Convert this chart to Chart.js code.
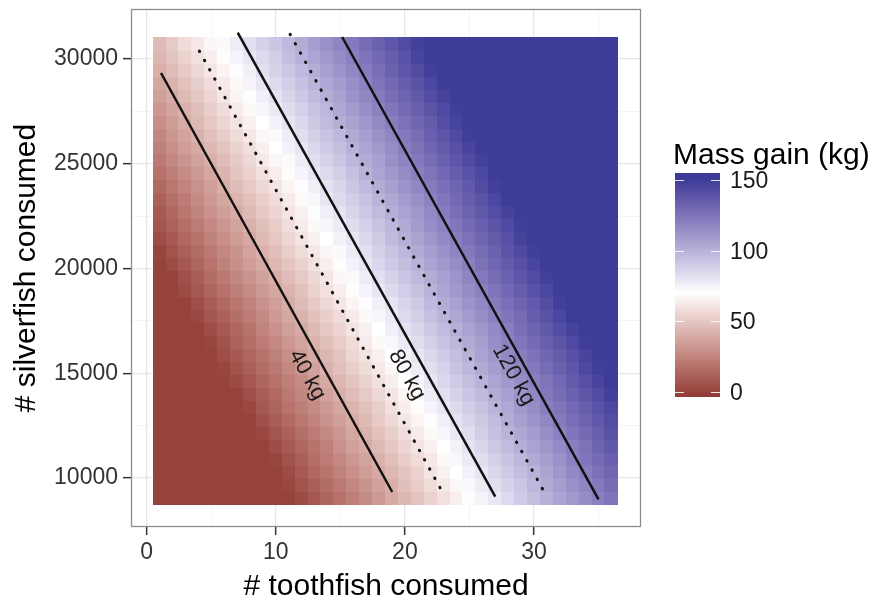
<!DOCTYPE html>
<html>
<head>
<meta charset="utf-8">
<title>Mass gain</title>
<script src="https://cdn.jsdelivr.net/npm/chart.js@4.4.1/dist/chart.umd.min.js"></script>
<style>
  html, body { margin: 0; padding: 0; background: #fff; }
</style>
</head>
<body>
<canvas id="myChart" width="883" height="606"></canvas>
<script>
// heatmap grid: columns = toothfish, rows = silverfish (bottom row first)
const toothfish = [1, 2, 3, 4, 5, 6, 7, 8, 9, 10, 11, 12, 13, 14, 15, 16, 17, 18,
  19, 20, 21, 22, 23, 24, 25, 26, 27, 28, 29, 30, 31, 32, 33, 34, 35, 36];
const silverfish = [9068, 9687, 10306, 10924, 11543, 12162, 12781, 13400, 14018,
  14637, 15256, 15875, 16494, 17112, 17731, 18350, 18969, 19588, 20206, 20825,
  21444, 22063, 22682, 23300, 23919, 24538, 25157, 25776, 26394, 27013, 27632,
  28251, 28870, 29488, 30107, 30726];

const massGain = [
  [0,0,0,0,0,0,0,0,0,0,0,3,8,13,18,23,28,33,39,44,49,54,59,64,69,74,79,84,90,95,100,105,110,115,120,125],
  [0,0,0,0,0,0,0,0,0,0,1,6,11,16,21,26,31,36,41,47,52,57,62,67,72,77,82,87,92,98,103,108,113,118,123,128],
  [0,0,0,0,0,0,0,0,0,0,3,9,14,19,24,29,34,39,44,49,54,60,65,70,75,80,85,90,95,100,105,111,116,121,126,131],
  [0,0,0,0,0,0,0,0,0,1,6,11,17,22,27,32,37,42,47,52,57,62,68,73,78,83,88,93,98,103,108,113,119,124,129,134],
  [0,0,0,0,0,0,0,0,0,4,9,14,19,24,30,35,40,45,50,55,60,65,70,75,81,86,91,96,101,106,111,116,121,126,132,137],
  [0,0,0,0,0,0,0,0,2,7,12,17,22,27,32,38,43,48,53,58,63,68,73,78,83,89,94,99,104,109,114,119,124,129,134,140],
  [0,0,0,0,0,0,0,0,5,10,15,20,25,30,35,40,45,51,56,61,66,71,76,81,86,91,96,102,107,112,117,122,127,132,137,142],
  [0,0,0,0,0,0,0,2,8,13,18,23,28,33,38,43,48,53,59,64,69,74,79,84,89,94,99,104,110,115,120,125,130,135,140,145],
  [0,0,0,0,0,0,0,5,10,15,21,26,31,36,41,46,51,56,61,66,72,77,82,87,92,97,102,107,112,117,123,128,133,138,143,148],
  [0,0,0,0,0,0,3,8,13,18,23,28,34,39,44,49,54,59,64,69,74,79,85,90,95,100,105,110,115,120,125,130,136,141,146,150],
  [0,0,0,0,0,1,6,11,16,21,26,31,36,42,47,52,57,62,67,72,77,82,87,93,98,103,108,113,118,123,128,133,138,144,149,150],
  [0,0,0,0,0,4,9,14,19,24,29,34,39,44,49,55,60,65,70,75,80,85,90,95,100,106,111,116,121,126,131,136,141,146,150,150],
  [0,0,0,0,1,6,12,17,22,27,32,37,42,47,52,57,63,68,73,78,83,88,93,98,103,108,114,119,124,129,134,139,144,149,150,150],
  [0,0,0,0,4,9,14,19,25,30,35,40,45,50,55,60,65,70,76,81,86,91,96,101,106,111,116,121,127,132,137,142,147,150,150,150],
  [0,0,0,2,7,12,17,22,27,33,38,43,48,53,58,63,68,73,78,84,89,94,99,104,109,114,119,124,129,135,140,145,150,150,150,150],
  [0,0,0,5,10,15,20,25,30,35,40,46,51,56,61,66,71,76,81,86,91,97,102,107,112,117,122,127,132,137,142,148,150,150,150,150],
  [0,0,3,8,13,18,23,28,33,38,43,48,54,59,64,69,74,79,84,89,94,99,105,110,115,120,125,130,135,140,145,150,150,150,150,150],
  [0,0,5,10,16,21,26,31,36,41,46,51,56,61,67,72,77,82,87,92,97,102,107,112,118,123,128,133,138,143,148,150,150,150,150,150],
  [0,3,8,13,18,24,29,34,39,44,49,54,59,64,69,75,80,85,90,95,100,105,110,115,120,126,131,136,141,146,150,150,150,150,150,150],
  [1,6,11,16,21,26,31,37,42,47,52,57,62,67,72,77,82,88,93,98,103,108,113,118,123,128,133,139,144,149,150,150,150,150,150,150],
  [4,9,14,19,24,29,34,39,45,50,55,60,65,70,75,80,85,90,96,101,106,111,116,121,126,131,136,141,147,150,150,150,150,150,150,150],
  [7,12,17,22,27,32,37,42,47,52,58,63,68,73,78,83,88,93,98,103,109,114,119,124,129,134,139,144,149,150,150,150,150,150,150,150],
  [9,14,20,25,30,35,40,45,50,55,60,65,71,76,81,86,91,96,101,106,111,116,122,127,132,137,142,147,150,150,150,150,150,150,150,150],
  [12,17,22,28,33,38,43,48,53,58,63,68,73,79,84,89,94,99,104,109,114,119,124,130,135,140,145,150,150,150,150,150,150,150,150,150],
  [15,20,25,30,35,41,46,51,56,61,66,71,76,81,86,92,97,102,107,112,117,122,127,132,137,143,148,150,150,150,150,150,150,150,150,150],
  [18,23,28,33,38,43,49,54,59,64,69,74,79,84,89,94,100,105,110,115,120,125,130,135,140,145,150,150,150,150,150,150,150,150,150,150],
  [21,26,31,36,41,46,51,56,62,67,72,77,82,87,92,97,102,107,113,118,123,128,133,138,143,148,150,150,150,150,150,150,150,150,150,150],
  [24,29,34,39,44,49,54,59,64,70,75,80,85,90,95,100,105,110,115,121,126,131,136,141,146,150,150,150,150,150,150,150,150,150,150,150],
  [26,32,37,42,47,52,57,62,67,72,77,83,88,93,98,103,108,113,118,123,128,134,139,144,149,150,150,150,150,150,150,150,150,150,150,150],
  [29,34,40,45,50,55,60,65,70,75,80,85,91,96,101,106,111,116,121,126,131,136,142,147,150,150,150,150,150,150,150,150,150,150,150,150],
  [32,37,42,47,53,58,63,68,73,78,83,88,93,98,104,109,114,119,124,129,134,139,144,149,150,150,150,150,150,150,150,150,150,150,150,150],
  [35,40,45,50,55,61,66,71,76,81,86,91,96,101,106,112,117,122,127,132,137,142,147,150,150,150,150,150,150,150,150,150,150,150,150,150],
  [38,43,48,53,58,63,68,74,79,84,89,94,99,104,109,114,119,125,130,135,140,145,150,150,150,150,150,150,150,150,150,150,150,150,150,150],
  [41,46,51,56,61,66,71,76,82,87,92,97,102,107,112,117,122,127,133,138,143,148,150,150,150,150,150,150,150,150,150,150,150,150,150,150],
  [44,49,54,59,64,69,74,79,84,89,95,100,105,110,115,120,125,130,135,140,146,150,150,150,150,150,150,150,150,150,150,150,150,150,150,150],
  [46,51,57,62,67,72,77,82,87,92,97,102,108,113,118,123,128,133,138,143,148,150,150,150,150,150,150,150,150,150,150,150,150,150,150,150]
];

// contour lines (end points), 40/80/120 solid, 60/100 dotted
const contourLevels = [40, 60, 80, 100, 120];
const contourX = [[1.11, 19.02], [4.08, 22.99], [7.05, 27.0], [11.11, 30.74], [15.14, 35.0]];
const contourY = [[29332, 9332], [30382, 9236], [31255, 9107], [31179, 9394], [31050, 8983]];

// contour labels
const labelText = ['40 kg', '80 kg', '120 kg'];
const labelLevel = [40, 80, 120];
const labelX = [12.43, 20.16, 28.42];
const labelY = [14916, 14916, 14916];

// ticks
const xTicks = [0, 10, 20, 30];
const xMinor = [5, 15, 25, 35];
const yTicks = [10000, 15000, 20000, 25000, 30000];
const yMinor = [12500, 17500, 22500, 27500];
const legendTicks = [0, 50, 100, 150];

const FONT = "'Liberation Sans', Arial, Helvetica, sans-serif";

// colour scale: muted red -> white -> muted blue, interpolated in Lab
const lowCol = '#832424', midCol = '#ffffff', highCol = '#3a3a98';
const midVal = 70, spread = 81;

function hexRgb(h) {
  return [parseInt(h.slice(1, 3), 16), parseInt(h.slice(3, 5), 16), parseInt(h.slice(5, 7), 16)];
}
function toLab(rgb) {
  const lin = rgb.map(c => { c /= 255; return c <= 0.04045 ? c / 12.92 : Math.pow((c + 0.055) / 1.055, 2.4); });
  const X = (lin[0] * 0.4124 + lin[1] * 0.3576 + lin[2] * 0.1805) / 0.95047;
  const Y = lin[0] * 0.2126 + lin[1] * 0.7152 + lin[2] * 0.0722;
  const Z = (lin[0] * 0.0193 + lin[1] * 0.1192 + lin[2] * 0.9505) / 1.08883;
  const f = t => t > 0.008856 ? Math.cbrt(t) : 7.787 * t + 16 / 116;
  return [116 * f(Y) - 16, 500 * (f(X) - f(Y)), 200 * (f(Y) - f(Z))];
}
function fromLab(L, a, b) {
  const fy = (L + 16) / 116, fx = fy + a / 500, fz = fy - b / 200;
  const inv = t => t * t * t > 0.008856 ? t * t * t : (t - 16 / 116) / 7.787;
  const X = inv(fx) * 0.95047, Y = inv(fy), Z = inv(fz) * 1.08883;
  const r = X * 3.2406 - Y * 1.5372 - Z * 0.4986;
  const g = -X * 0.9689 + Y * 1.8758 + Z * 0.0415;
  const bl = X * 0.0557 - Y * 0.2040 + Z * 1.0570;
  const gam = c => {
    c = c <= 0.0031308 ? 12.92 * c : 1.055 * Math.pow(c, 1 / 2.4) - 0.055;
    return Math.round(Math.min(1, Math.max(0, c)) * 255);
  };
  return 'rgb(' + gam(r) + ',' + gam(g) + ',' + gam(bl) + ')';
}
const labLow = toLab(hexRgb(lowCol)), labMid = toLab(hexRgb(midCol)), labHigh = toLab(hexRgb(highCol));

function fillFor(v) {
  let t = (v - midVal) / spread;
  t = Math.max(-1, Math.min(1, t));
  const end = t < 0 ? labLow : labHigh;
  const k = Math.abs(t);
  return fromLab(
    labMid[0] + (end[0] - labMid[0]) * k,
    labMid[1] + (end[1] - labMid[1]) * k,
    labMid[2] + (end[2] - labMid[2]) * k
  );
}

// build datasets
const cells = [];
silverfish.forEach((sv, r) => {
  toothfish.forEach((tv, c) => cells.push({ x: tv, y: sv, v: massGain[r][c] }));
});

const datasets = [{
  label: 'heat',
  data: cells,
  pointRadius: 0,
  showLine: false
}];
contourLevels.forEach((lev, i) => {
  const dotted = lev % 40 !== 0;
  datasets.push({
    label: lev + ' kg',
    data: contourX[i].map((vx, j) => ({ x: vx, y: contourY[i][j] })),
    showLine: true,
    pointRadius: 0,
    borderColor: '#111',
    borderWidth: dotted ? 3 : 2.5,
    borderDash: dotted ? [0.5, 10.1] : [],
    borderCapStyle: dotted ? 'round' : 'butt'
  });
});

// tiles
const heatPlugin = {
  id: 'heat',
  beforeDatasetsDraw(chart) {
    const { ctx, scales: { x, y } } = chart;
    const hx = (toothfish[1] - toothfish[0]) / 2;
    const hy = (silverfish[1] - silverfish[0]) / 2;
    ctx.save();
    chart.data.datasets[0].data.forEach(c => {
      const x0 = Math.floor(x.getPixelForValue(c.x - hx));
      const x1 = Math.ceil(x.getPixelForValue(c.x + hx));
      const y0 = Math.floor(y.getPixelForValue(c.y + hy));
      const y1 = Math.ceil(y.getPixelForValue(c.y - hy));
      ctx.fillStyle = fillFor(c.v);
      ctx.fillRect(x0, y0, x1 - x0, y1 - y0);
    });
    ctx.restore();
  }
};

// labels on the contours
const labelPlugin = {
  id: 'contourLabels',
  afterDatasetsDraw(chart) {
    const { ctx, scales: { x, y } } = chart;
    ctx.save();
    labelText.forEach((txt, i) => {
      const li = contourLevels.indexOf(labelLevel[i]);
      const ax = x.getPixelForValue(contourX[li][0]), ay = y.getPixelForValue(contourY[li][0]);
      const bx = x.getPixelForValue(contourX[li][1]), by = y.getPixelForValue(contourY[li][1]);
      const ang = Math.atan2(by - ay, bx - ax);
      ctx.save();
      ctx.translate(x.getPixelForValue(labelX[i]), y.getPixelForValue(labelY[i]));
      ctx.rotate(ang);
      ctx.font = '22px ' + FONT;
      ctx.fillStyle = '#1a1a1a';
      ctx.textAlign = 'center';
      ctx.textBaseline = 'middle';
      ctx.fillText(txt, 0, 0);
      ctx.restore();
    });
    ctx.restore();
  }
};

// panel border + colour bar legend
const framePlugin = {
  id: 'frame',
  afterDraw(chart) {
    const { ctx, chartArea: a } = chart;
    ctx.save();
    ctx.strokeStyle = '#8c8c8c';
    ctx.lineWidth = 1.3;
    ctx.strokeRect(a.left + 0.5, a.top + 0.5, a.right - a.left - 1, a.bottom - a.top - 1);

    // legend
    const barL = 675, barR = 720, barTop = 173, barBot = 397;
    const v0y = 392, pxPerKg = 1.414;
    const valAt = py => (v0y - py) / pxPerKg;
    for (let py = barTop; py < barBot; py++) {
      ctx.fillStyle = fillFor(valAt(py + 0.5));
      ctx.fillRect(barL, py, barR - barL, 1);
    }
    ctx.strokeStyle = 'rgba(255,255,255,0.85)';
    ctx.lineWidth = 1;
    ctx.font = '23px ' + FONT;
    ctx.fillStyle = '#1a1a1a';
    ctx.textAlign = 'left';
    ctx.textBaseline = 'middle';
    legendTicks.forEach(v => {
      const py = Math.round(v0y - v * pxPerKg) + 0.5;
      ctx.beginPath();
      ctx.moveTo(barL, py); ctx.lineTo(barL + 9, py);
      ctx.moveTo(barR - 9, py); ctx.lineTo(barR, py);
      ctx.stroke();
      ctx.fillText(String(v), 730, py + 1);
    });
    ctx.font = '30px ' + FONT;
    ctx.fillStyle = '#000';
    ctx.textBaseline = 'alphabetic';
    ctx.fillText('Mass gain (kg)', 673, 164);
    ctx.restore();
  }
};

const gridColor = (majors) => c => (c.tick && majors.includes(c.tick.value)) ? '#e6e6e6' : '#f3f3f3';
const gridWidth = (majors) => c => (c.tick && majors.includes(c.tick.value)) ? 1.3 : 0.8;
const tickColor = (majors) => c => (c.tick && majors.includes(c.tick.value)) ? '#333' : 'rgba(0,0,0,0)';

var ctx = document.getElementById('myChart').getContext('2d');
var myChart = new Chart(ctx, {
  type: 'scatter',
  data: { datasets: datasets },
  options: {
    responsive: false,
    animation: false,
    events: [],
    layout: { padding: { left: 0, right: 242, top: 9, bottom: 0 } },
    plugins: { legend: { display: false }, tooltip: { enabled: false } },
    scales: {
      x: {
        type: 'linear',
        min: -1.216,
        max: 38.29,
        afterBuildTicks: s => { s.ticks = xTicks.concat(xMinor).sort((a, b) => a - b).map(v => ({ value: v })); },
        afterFit: s => { s.height = 79; s.paddingLeft = 0; s.paddingRight = 0; },
        border: { display: false },
        grid: { color: gridColor(xTicks), lineWidth: gridWidth(xTicks), tickColor: tickColor(xTicks), tickLength: 8, tickWidth: 1.5 },
        ticks: {
          autoSkip: false, maxRotation: 0, padding: 4, color: '#333',
          font: { family: FONT, size: 23 },
          callback: v => xTicks.includes(v) ? String(v) : ''
        },
        title: { display: true, text: '# toothfish consumed', color: '#000', font: { family: FONT, size: 30 }, padding: { top: 0, bottom: 1.5 } }
      },
      y: {
        type: 'linear',
        min: 7661,
        max: 32387,
        afterBuildTicks: s => { s.ticks = yTicks.concat(yMinor).sort((a, b) => a - b).map(v => ({ value: v })); },
        afterFit: s => { s.width = 131; s.paddingTop = 0; s.paddingBottom = 0; },
        border: { display: false },
        grid: { color: gridColor(yTicks), lineWidth: gridWidth(yTicks), tickColor: tickColor(yTicks), tickLength: 8, tickWidth: 1.5 },
        ticks: {
          autoSkip: false, padding: 5, color: '#333',
          font: { family: FONT, size: 23 },
          callback: v => yTicks.includes(v) ? String(v) : ''
        },
        title: { display: true, text: '# silverfish consumed', color: '#000', font: { family: FONT, size: 30 }, padding: { top: 9, bottom: 0 } }
      }
    }
  },
  plugins: [heatPlugin, labelPlugin, framePlugin]
});
</script>
</body>
</html>
